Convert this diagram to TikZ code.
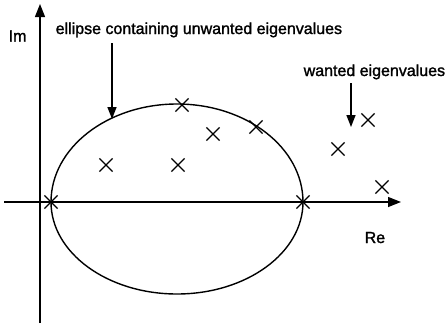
\documentclass[tikz,border=0pt]{standalone}
\usepackage{fontspec}
\setmainfont{Liberation Sans}
\newfontfamily\lblfont{Liberation Sans}[FakeBold=1.5]
\usetikzlibrary{arrows.meta,shapes.misc}
\begin{document}
\begin{tikzpicture}[x=1pt,y=-1pt,line width=1.4pt,
  eig/.style={cross out,draw,minimum size=12pt,inner sep=0pt,line width=1.2pt},
  lbl/.style={font=\lblfont\fontsize{16}{18}\selectfont,inner sep=0pt,anchor=base west},
  axisarrow/.style={-{Triangle[length=13pt,width=10pt]}},
  pointer/.style={-{Triangle[length=12pt,width=9pt]}}]
\useasboundingbox (0,0) rectangle (448,325);
% axes
\coordinate (xs) at (4,202);
\coordinate (xe) at (401,202);
\coordinate (ys) at (40,323);
\coordinate (ye) at (40,4);
\draw[axisarrow] (xs) -- (xe);
\draw[axisarrow] (ys) -- (ye);
% ellipse (slightly egg shaped)
\draw (51,202) arc[start angle=180,end angle=360,x radius=126,y radius=98]
               arc[start angle=0,end angle=180,x radius=126,y radius=92];
% eigenvalues
\node[eig] (e1) at (51,202) {};
\node[eig] (e2) at (303,202) {};
\node[eig] (e3) at (182,105) {};
\node[eig] (e4) at (213,134) {};
\node[eig] (e5) at (256,127) {};
\node[eig] (e6) at (106,165) {};
\node[eig] (e7) at (178,165) {};
\node[eig] (e8) at (338,149) {};
\node[eig] (e9) at (368,120) {};
\node[eig] (e10) at (382,187) {};
% labels
\node[lbl] (im) at (8,41.5) {Im};
\node[lbl] (re) at (364,243) {Re};
\node[lbl] (ell) at (55,34) {ellipse containing unwanted eigenvalues};
\node[lbl] (want) at (303,76) {wanted eigenvalues};
% pointers
\coordinate (p1s) at (112,43);
\coordinate (p1e) at (112,119);
\coordinate (p2s) at (351,83);
\coordinate (p2e) at (351,127);
\draw[pointer] (p1s) -- (p1e);
\draw[pointer] (p2s) -- (p2e);
\end{tikzpicture}
\end{document}
